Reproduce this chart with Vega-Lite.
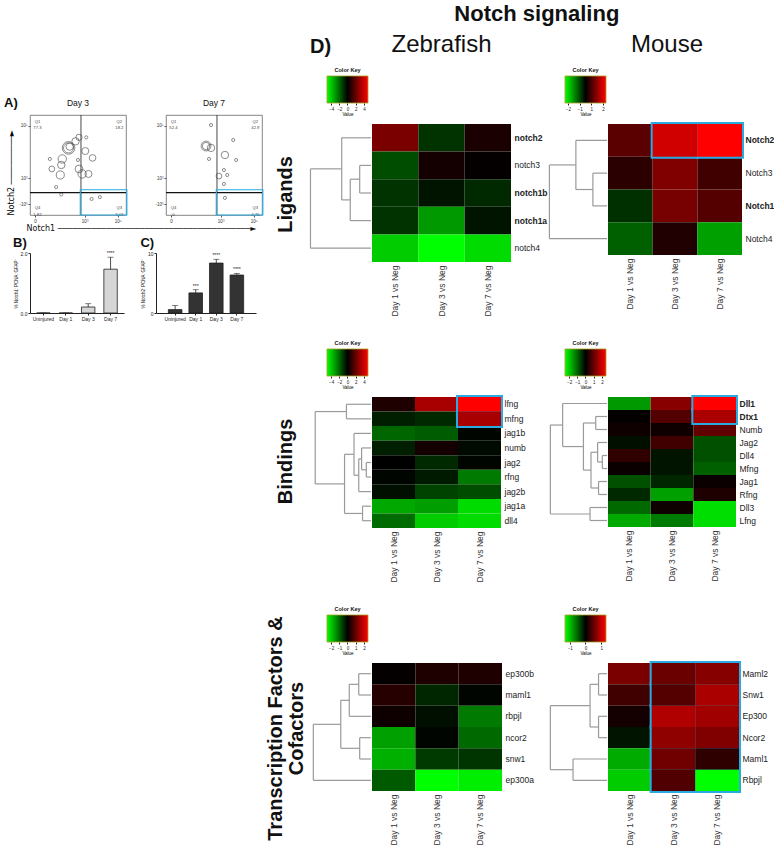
{
"$schema": "https://vega.github.io/schema/vega-lite/v6.json",
"padding": {"left": 4, "top": 2, "right": 0, "bottom": 0},
"background": "white",
"config": {
  "view": {"stroke": null},
  "font": "Liberation Sans",
  "axis": {"grid": false, "labelFont": "Liberation Sans", "titleFont": "Liberation Sans"},
  "title": {"font": "Liberation Sans", "color": "#111"},
  "text": {"font": "Liberation Sans"}
},
"datasets": {
  "zl": [
    {"gene":"notch2","comp":"Day 1 vs Neg","v":2.4},{"gene":"notch2","comp":"Day 3 vs Neg","v":-1.0},{"gene":"notch2","comp":"Day 7 vs Neg","v":0.5},
    {"gene":"notch3","comp":"Day 1 vs Neg","v":-1.5},{"gene":"notch3","comp":"Day 3 vs Neg","v":0.4},{"gene":"notch3","comp":"Day 7 vs Neg","v":0.1},
    {"gene":"notch1b","comp":"Day 1 vs Neg","v":-1.0},{"gene":"notch1b","comp":"Day 3 vs Neg","v":-0.4},{"gene":"notch1b","comp":"Day 7 vs Neg","v":-0.8},
    {"gene":"notch1a","comp":"Day 1 vs Neg","v":-1.0},{"gene":"notch1a","comp":"Day 3 vs Neg","v":-3.0},{"gene":"notch1a","comp":"Day 7 vs Neg","v":-0.4},
    {"gene":"notch4","comp":"Day 1 vs Neg","v":-4.0},{"gene":"notch4","comp":"Day 3 vs Neg","v":-5.0},{"gene":"notch4","comp":"Day 7 vs Neg","v":-4.3}
  ],
  "ml": [
    {"gene":"Notch2","comp":"Day 1 vs Neg","v":0.62},{"gene":"Notch2","comp":"Day 3 vs Neg","v":1.43},{"gene":"Notch2","comp":"Day 7 vs Neg","v":1.75},
    {"gene":"Notch3","comp":"Day 1 vs Neg","v":0.29},{"gene":"Notch3","comp":"Day 3 vs Neg","v":0.88},{"gene":"Notch3","comp":"Day 7 vs Neg","v":0.44},
    {"gene":"Notch1","comp":"Day 1 vs Neg","v":-0.33},{"gene":"Notch1","comp":"Day 3 vs Neg","v":0.82},{"gene":"Notch1","comp":"Day 7 vs Neg","v":0.58},
    {"gene":"Notch4","comp":"Day 1 vs Neg","v":-0.66},{"gene":"Notch4","comp":"Day 3 vs Neg","v":0.22},{"gene":"Notch4","comp":"Day 7 vs Neg","v":-1.1}
  ],
  "zb": [
    {"gene":"lfng","comp":"Day 1 vs Neg","v":0.6},{"gene":"lfng","comp":"Day 3 vs Neg","v":3.3},{"gene":"lfng","comp":"Day 7 vs Neg","v":5.0},
    {"gene":"mfng","comp":"Day 1 vs Neg","v":-0.6},{"gene":"mfng","comp":"Day 3 vs Neg","v":-0.8},{"gene":"mfng","comp":"Day 7 vs Neg","v":3.3},
    {"gene":"jag1b","comp":"Day 1 vs Neg","v":-2.0},{"gene":"jag1b","comp":"Day 3 vs Neg","v":-1.8},{"gene":"jag1b","comp":"Day 7 vs Neg","v":-0.1},
    {"gene":"numb","comp":"Day 1 vs Neg","v":-0.6},{"gene":"numb","comp":"Day 3 vs Neg","v":0.4},{"gene":"numb","comp":"Day 7 vs Neg","v":-0.2},
    {"gene":"jag2","comp":"Day 1 vs Neg","v":0.0},{"gene":"jag2","comp":"Day 3 vs Neg","v":-0.8},{"gene":"jag2","comp":"Day 7 vs Neg","v":-0.1},
    {"gene":"rfng","comp":"Day 1 vs Neg","v":-0.1},{"gene":"rfng","comp":"Day 3 vs Neg","v":-0.5},{"gene":"rfng","comp":"Day 7 vs Neg","v":-2.4},
    {"gene":"jag2b","comp":"Day 1 vs Neg","v":-0.3},{"gene":"jag2b","comp":"Day 3 vs Neg","v":-1.3},{"gene":"jag2b","comp":"Day 7 vs Neg","v":-1.5},
    {"gene":"jag1a","comp":"Day 1 vs Neg","v":-3.3},{"gene":"jag1a","comp":"Day 3 vs Neg","v":-3.1},{"gene":"jag1a","comp":"Day 7 vs Neg","v":-4.3},
    {"gene":"dll4","comp":"Day 1 vs Neg","v":-2.1},{"gene":"dll4","comp":"Day 3 vs Neg","v":-4.0},{"gene":"dll4","comp":"Day 7 vs Neg","v":-4.3}
  ],
  "mb": [
    {"gene":"Dll1","comp":"Day 1 vs Neg","v":-1.5},{"gene":"Dll1","comp":"Day 3 vs Neg","v":1.33},{"gene":"Dll1","comp":"Day 7 vs Neg","v":2.5},
    {"gene":"Dtx1","comp":"Day 1 vs Neg","v":0.05},{"gene":"Dtx1","comp":"Day 3 vs Neg","v":0.8},{"gene":"Dtx1","comp":"Day 7 vs Neg","v":1.67},
    {"gene":"Numb","comp":"Day 1 vs Neg","v":0.15},{"gene":"Numb","comp":"Day 3 vs Neg","v":0.15},{"gene":"Numb","comp":"Day 7 vs Neg","v":0.94},
    {"gene":"Jag2","comp":"Day 1 vs Neg","v":-0.15},{"gene":"Jag2","comp":"Day 3 vs Neg","v":0.63},{"gene":"Jag2","comp":"Day 7 vs Neg","v":-0.78},
    {"gene":"Dll4","comp":"Day 1 vs Neg","v":0.47},{"gene":"Dll4","comp":"Day 3 vs Neg","v":-0.2},{"gene":"Dll4","comp":"Day 7 vs Neg","v":-0.78},
    {"gene":"Mfng","comp":"Day 1 vs Neg","v":0.1},{"gene":"Mfng","comp":"Day 3 vs Neg","v":-0.2},{"gene":"Mfng","comp":"Day 7 vs Neg","v":-0.94},
    {"gene":"Jag1","comp":"Day 1 vs Neg","v":-0.78},{"gene":"Jag1","comp":"Day 3 vs Neg","v":-0.37},{"gene":"Jag1","comp":"Day 7 vs Neg","v":0.1},
    {"gene":"Rfng","comp":"Day 1 vs Neg","v":-0.4},{"gene":"Rfng","comp":"Day 3 vs Neg","v":-1.57},{"gene":"Rfng","comp":"Day 7 vs Neg","v":0.3},
    {"gene":"Dll3","comp":"Day 1 vs Neg","v":-1.04},{"gene":"Dll3","comp":"Day 3 vs Neg","v":0.15},{"gene":"Dll3","comp":"Day 7 vs Neg","v":-2.17},
    {"gene":"Lfng","comp":"Day 1 vs Neg","v":-1.67},{"gene":"Lfng","comp":"Day 3 vs Neg","v":-1.2},{"gene":"Lfng","comp":"Day 7 vs Neg","v":-2.17}
  ],
  "zt": [
    {"gene":"ep300b","comp":"Day 1 vs Neg","v":0.05},{"gene":"ep300b","comp":"Day 3 vs Neg","v":0.3},{"gene":"ep300b","comp":"Day 7 vs Neg","v":0.3},
    {"gene":"maml1","comp":"Day 1 vs Neg","v":0.37},{"gene":"maml1","comp":"Day 3 vs Neg","v":-0.37},{"gene":"maml1","comp":"Day 7 vs Neg","v":-0.05},
    {"gene":"rbpjl","comp":"Day 1 vs Neg","v":0.15},{"gene":"rbpjl","comp":"Day 3 vs Neg","v":-0.15},{"gene":"rbpjl","comp":"Day 7 vs Neg","v":-1.2},
    {"gene":"ncor2","comp":"Day 1 vs Neg","v":-1.57},{"gene":"ncor2","comp":"Day 3 vs Neg","v":-0.05},{"gene":"ncor2","comp":"Day 7 vs Neg","v":-1.04},
    {"gene":"snw1","comp":"Day 1 vs Neg","v":-1.73},{"gene":"snw1","comp":"Day 3 vs Neg","v":-0.57},{"gene":"snw1","comp":"Day 7 vs Neg","v":-0.52},
    {"gene":"ep300a","comp":"Day 1 vs Neg","v":-0.88},{"gene":"ep300a","comp":"Day 3 vs Neg","v":-2.5},{"gene":"ep300a","comp":"Day 7 vs Neg","v":-2.33}
  ],
  "mt": [
    {"gene":"Maml2","comp":"Day 1 vs Neg","v":0.62},{"gene":"Maml2","comp":"Day 3 vs Neg","v":0.54},{"gene":"Maml2","comp":"Day 7 vs Neg","v":0.69},
    {"gene":"Snw1","comp":"Day 1 vs Neg","v":0.33},{"gene":"Snw1","comp":"Day 3 vs Neg","v":0.43},{"gene":"Snw1","comp":"Day 7 vs Neg","v":0.87},
    {"gene":"Ep300","comp":"Day 1 vs Neg","v":0.1},{"gene":"Ep300","comp":"Day 3 vs Neg","v":0.9},{"gene":"Ep300","comp":"Day 7 vs Neg","v":0.82},
    {"gene":"Ncor2","comp":"Day 1 vs Neg","v":-0.1},{"gene":"Ncor2","comp":"Day 3 vs Neg","v":0.73},{"gene":"Ncor2","comp":"Day 7 vs Neg","v":0.65},
    {"gene":"Maml1","comp":"Day 1 vs Neg","v":-0.87},{"gene":"Maml1","comp":"Day 3 vs Neg","v":0.57},{"gene":"Maml1","comp":"Day 7 vs Neg","v":0.24},
    {"gene":"Rbpjl","comp":"Day 1 vs Neg","v":-1.04},{"gene":"Rbpjl","comp":"Day 3 vs Neg","v":0.41},{"gene":"Rbpjl","comp":"Day 7 vs Neg","v":-1.3}
  ],
  "dzl": [
    {"h":12,"ha":0,"ya":1.5,"hb":0,"yb":2.5},
    {"h":22,"ha":0,"ya":3.5,"hb":12,"yb":2.0},
    {"h":31,"ha":0,"ya":0.5,"hb":22,"yb":2.75},
    {"h":64,"ha":31,"ya":1.625,"hb":0,"yb":4.5}
  ],
  "dml": [
    {"h":15,"ha":0,"ya":1.5,"hb":0,"yb":2.5},
    {"h":33,"ha":0,"ya":0.5,"hb":15,"yb":2.0},
    {"h":61,"ha":33,"ya":1.25,"hb":0,"yb":3.5}
  ],
  "dzb": [
    {"h":5,"ha":0,"ya":4.5,"hb":0,"yb":5.5},
    {"h":10,"ha":0,"ya":3.5,"hb":5,"yb":5.0},
    {"h":13,"ha":10,"ya":4.25,"hb":0,"yb":6.5},
    {"h":18,"ha":0,"ya":2.5,"hb":13,"yb":5.375},
    {"h":9,"ha":0,"ya":7.5,"hb":0,"yb":8.5},
    {"h":28,"ha":18,"ya":3.9375,"hb":9,"yb":8.0},
    {"h":26,"ha":0,"ya":0.5,"hb":0,"yb":1.5},
    {"h":59,"ha":26,"ya":1.0,"hb":28,"yb":5.97}
  ],
  "dmb": [
    {"h":5,"ha":0,"ya":4.5,"hb":0,"yb":5.5},
    {"h":10,"ha":0,"ya":3.5,"hb":5,"yb":5.0},
    {"h":9,"ha":0,"ya":6.5,"hb":0,"yb":7.5},
    {"h":17,"ha":10,"ya":4.25,"hb":9,"yb":7.0},
    {"h":12,"ha":0,"ya":1.5,"hb":0,"yb":2.5},
    {"h":25,"ha":12,"ya":2.0,"hb":17,"yb":5.625},
    {"h":47,"ha":0,"ya":0.5,"hb":25,"yb":3.8125},
    {"h":18,"ha":0,"ya":8.5,"hb":0,"yb":9.5},
    {"h":60,"ha":47,"ya":2.156,"hb":18,"yb":9.0}
  ],
  "dzt": [
    {"h":13,"ha":0,"ya":0.5,"hb":0,"yb":1.5},
    {"h":23,"ha":13,"ya":1.0,"hb":0,"yb":2.5},
    {"h":12,"ha":0,"ya":3.5,"hb":0,"yb":4.5},
    {"h":32,"ha":23,"ya":1.75,"hb":12,"yb":4.0},
    {"h":61,"ha":32,"ya":2.875,"hb":0,"yb":5.5}
  ],
  "dmt": [
    {"h":9,"ha":0,"ya":0.5,"hb":0,"yb":1.5},
    {"h":9,"ha":0,"ya":2.5,"hb":0,"yb":3.5},
    {"h":18,"ha":9,"ya":1.0,"hb":9,"yb":3.0},
    {"h":36,"ha":0,"ya":4.5,"hb":0,"yb":5.5},
    {"h":60,"ha":18,"ya":2.0,"hb":36,"yb":5.0}
  ],
  "d3pts": [
    {"x":2.03,"y":4.15,"ext":3.0},{"x":2.03,"y":4.15,"ext":1.9},{"x":2.1,"y":4.2,"ext":1.0},
    {"x":2.45,"y":4.4,"ext":1.0},{"x":2.66,"y":4.55,"ext":0.7},{"x":1.65,"y":3.73,"ext":1.3},
    {"x":1.59,"y":3.5,"ext":1.0},{"x":1.53,"y":3.12,"ext":1.2},{"x":1.02,"y":3.35,"ext":0.6},
    {"x":3.04,"y":4.03,"ext":0.9},{"x":3.48,"y":3.77,"ext":0.8},{"x":2.66,"y":3.35,"ext":1.1},
    {"x":2.85,"y":3.16,"ext":1.3},{"x":3.23,"y":3.16,"ext":0.9},{"x":0.9,"y":3.73,"ext":0.15},
    {"x":2.6,"y":3.69,"ext":0.15},{"x":1.28,"y":2.66,"ext":0.15},{"x":1.59,"y":2.38,"ext":0.15},
    {"x":3.42,"y":2.21,"ext":0.15},{"x":3.92,"y":2.28,"ext":0.15},{"x":3.1,"y":4.55,"ext":0.15}
  ],
  "d7pts": [
    {"x":2.12,"y":4.22,"ext":1.8},{"x":2.12,"y":4.22,"ext":1.0},{"x":2.42,"y":4.15,"ext":1.0},
    {"x":3.26,"y":3.88,"ext":1.0},{"x":2.42,"y":5.02,"ext":0.15},{"x":2.3,"y":3.73,"ext":0.15},
    {"x":3.76,"y":4.45,"ext":0.15},{"x":3.94,"y":3.69,"ext":0.15},{"x":2.9,"y":3.08,"ext":0.6},
    {"x":3.2,"y":3.31,"ext":0.15},{"x":3.4,"y":3.12,"ext":0.15},{"x":3.2,"y":2.78,"ext":0.15},
    {"x":3.26,"y":2.25,"ext":0.15}
  ],
  "d3q": [
    {"q":"Q1\n77.3","qx":0.15,"qy":5.15},{"q":"Q2\n18.2","qx":5.1,"qy":5.15},
    {"q":"Q4\n1.82","qx":0.15,"qy":1.85},{"q":"Q3\n3.03","qx":5.1,"qy":1.85}
  ],
  "d7q": [
    {"q":"Q1\n52.4","qx":0.15,"qy":5.15},{"q":"Q2\n42.9","qx":5.1,"qy":5.15},
    {"q":"Q4\n0","qx":0.15,"qy":1.85},{"q":"Q3\n4.76","qx":5.1,"qy":1.85}
  ],
  "barsB": [
    {"group":"Uninjured","mean":0,"upper":0,"stars":""},
    {"group":"Day 1","mean":0,"upper":0,"stars":""},
    {"group":"Day 3","mean":0.2,"upper":0.31,"stars":""},
    {"group":"Day 7","mean":1.46,"upper":1.86,"stars":"****"}
  ],
  "barsC": [
    {"group":"Uninjured","mean":0.57,"upper":1.25,"stars":""},
    {"group":"Day 1","mean":3.35,"upper":3.88,"stars":"***"},
    {"group":"Day 3","mean":8.32,"upper":8.95,"stars":"****"},
    {"group":"Day 7","mean":6.33,"upper":6.6,"stars":"****"}
  ]
},
"spacing": 2,
"hconcat": [
  {
    "spacing": 4,
    "vconcat": [
      {
        "spacing": -12,
        "vconcat": [
          {"width": 20, "height": 36, "data": {"values": [{"t": ""}]}, "mark": {"type": "text", "fontSize": 1}, "encoding": {"text": {"field": "t"}},
           "title": {"text": "A)", "orient": "bottom", "anchor": "start", "fontSize": 13, "fontWeight": "bold", "offset": 0, "dx": -26}},
          {
            "spacing": 26,
            "title": {"text": "Notch1  ────────────────────────────────────────►", "orient": "bottom", "anchor": "start", "font": "DejaVu Sans", "fontSize": 8, "fontWeight": "normal", "offset": 2, "dx": 19},
            "hconcat": [
              {
                "width": 96, "height": 100,
                "view": {"stroke": "#666", "strokeWidth": 0.8},
                "title": {"text": "Day 3", "fontSize": 8.5, "fontWeight": "normal", "offset": 7},
                "layer": [
                  {"data": {"name": "d3pts"}, "mark": {"type": "point", "shape": "circle", "filled": false, "color": "#333", "strokeWidth": 0.8},
                   "encoding": {
                     "x": {"field": "x", "type": "quantitative", "scale": {"domain": [-0.3, 5.5], "nice": false, "zero": false},
                           "axis": {"title": null, "values": [0, 2, 3, 4, 5], "labelExpr": "datum.value == 0 ? '0' : datum.value == 2 ? '10²' : datum.value == 3 ? '10³' : datum.value == 4 ? '10⁴' : '10⁵'", "labelFontSize": 4.5, "tickSize": 2, "domain": false, "labelPadding": 1, "labelColor": "#333", "tickColor": "#555"}},
                     "y": {"field": "y", "type": "quantitative", "scale": {"domain": [1.6, 5.4], "nice": false, "zero": false},
                           "axis": {"title": "Notch2  ──────────►", "titleFont": "DejaVu Sans", "titleFontSize": 8, "titleFontWeight": "normal", "titleAnchor": "start", "titlePadding": 3, "values": [2.0, 2.45, 3, 4, 5], "labelExpr": "datum.value == 2 ? '-10³' : datum.value == 2.45 ? '0' : datum.value == 3 ? '10³' : datum.value == 4 ? '10⁴' : '10⁵'", "labelFontSize": 4.5, "tickSize": 2, "domain": false, "labelPadding": 1, "labelColor": "#333", "tickColor": "#555"}},
                     "size": {"field": "ext", "type": "quantitative", "scale": {"domain": [0, 3], "range": [2, 160]}, "legend": null}
                   }},
                  {"data": {"values": [{"gate": 2.78}]}, "mark": {"type": "rule", "color": "#333", "strokeWidth": 0.9}, "encoding": {"x": {"field": "gate", "type": "quantitative"}}},
                  {"data": {"values": [{"gate": 2.45}]}, "mark": {"type": "rule", "color": "#111", "strokeWidth": 1.4}, "encoding": {"y": {"field": "gate", "type": "quantitative"}}},
                  {"data": {"name": "d3q"}, "mark": {"type": "text", "fontSize": 4.2, "lineBreak": "\n", "color": "#444"},
                   "encoding": {"x": {"field": "qx", "type": "quantitative"}, "y": {"field": "qy", "type": "quantitative"}, "text": {"field": "q"}}},
                  {"data": {"values": [{"x1": 2.74, "x2": 5.55, "y1": 1.6, "y2": 2.56}]}, "mark": {"type": "rect", "filled": false, "stroke": "#29abe2", "strokeWidth": 1.2, "clip": false},
                   "encoding": {"x": {"field": "x1", "type": "quantitative"}, "x2": {"field": "x2"}, "y": {"field": "y1", "type": "quantitative"}, "y2": {"field": "y2"}}}
                ]
              },
              {
                "width": 96, "height": 100,
                "view": {"stroke": "#666", "strokeWidth": 0.8},
                "title": {"text": "Day 7", "fontSize": 8.5, "fontWeight": "normal", "offset": 7},
                "layer": [
                  {"data": {"name": "d7pts"}, "mark": {"type": "point", "shape": "circle", "filled": false, "color": "#333", "strokeWidth": 0.8},
                   "encoding": {
                     "x": {"field": "x", "type": "quantitative", "scale": {"domain": [-0.3, 5.5], "nice": false, "zero": false},
                           "axis": {"title": null, "values": [0, 2, 3, 4, 5], "labelExpr": "datum.value == 0 ? '0' : datum.value == 2 ? '10²' : datum.value == 3 ? '10³' : datum.value == 4 ? '10⁴' : '10⁵'", "labelFontSize": 4.5, "tickSize": 2, "domain": false, "labelPadding": 1, "labelColor": "#333", "tickColor": "#555"}},
                     "y": {"field": "y", "type": "quantitative", "scale": {"domain": [1.6, 5.4], "nice": false, "zero": false},
                           "axis": {"title": null, "values": [2.0, 2.45, 3, 4, 5], "labelExpr": "datum.value == 2 ? '-10³' : datum.value == 2.45 ? '0' : datum.value == 3 ? '10³' : datum.value == 4 ? '10⁴' : '10⁵'", "labelFontSize": 4.5, "tickSize": 2, "domain": false, "labelPadding": 1, "labelColor": "#333", "tickColor": "#555"}},
                     "size": {"field": "ext", "type": "quantitative", "scale": {"domain": [0, 3], "range": [2, 160]}, "legend": null}
                   }},
                  {"data": {"values": [{"gate": 2.78}]}, "mark": {"type": "rule", "color": "#333", "strokeWidth": 0.9}, "encoding": {"x": {"field": "gate", "type": "quantitative"}}},
                  {"data": {"values": [{"gate": 2.45}]}, "mark": {"type": "rule", "color": "#111", "strokeWidth": 1.4}, "encoding": {"y": {"field": "gate", "type": "quantitative"}}},
                  {"data": {"name": "d7q"}, "mark": {"type": "text", "fontSize": 4.2, "lineBreak": "\n", "color": "#444"},
                   "encoding": {"x": {"field": "qx", "type": "quantitative"}, "y": {"field": "qy", "type": "quantitative"}, "text": {"field": "q"}}},
                  {"data": {"values": [{"x1": 2.74, "x2": 5.55, "y1": 1.6, "y2": 2.56}]}, "mark": {"type": "rect", "filled": false, "stroke": "#29abe2", "strokeWidth": 1.2, "clip": false},
                   "encoding": {"x": {"field": "x1", "type": "quantitative"}, "x2": {"field": "x2"}, "y": {"field": "y1", "type": "quantitative"}, "y2": {"field": "y2"}}}
                ]
              }
            ]
          }
        ]
      },
      {
        "spacing": 16,
        "hconcat": [
          {
            "title": {"text": "B)", "anchor": "start", "fontSize": 13, "fontWeight": "bold", "offset": 1},
            "vconcat": [
              {
                "width": 94, "height": 60,
                "data": {"name": "barsB"},
                "encoding": {"x": {"field": "group", "type": "nominal", "sort": ["Uninjured", "Day 1", "Day 3", "Day 7"], "scale": {"paddingInner": 0.4, "paddingOuter": 0.3},
                             "axis": {"title": null, "labelAngle": 0, "labelFontSize": 5, "tickSize": 2, "domainColor": "#222", "tickColor": "#222", "labelColor": "#222", "labelPadding": 1}}},
                "layer": [
                  {"mark": {"type": "bar", "color": "#d6d6d6", "stroke": "#222", "strokeWidth": 0.8},
                   "encoding": {"y": {"field": "mean", "type": "quantitative", "scale": {"domain": [0, 2]},
                     "axis": {"title": "% Notch1⁺PCNA⁺GFAP⁺", "values": [0, 0.5, 1, 1.5, 2], "format": ".1f", "labelFontSize": 5, "titleFontSize": 4.5, "titleFontWeight": "normal", "tickSize": 2, "domainColor": "#222", "tickColor": "#222", "labelColor": "#222", "titleColor": "#222", "titlePadding": 2, "labelPadding": 1}}}},
                  {"mark": {"type": "rule", "color": "#222", "strokeWidth": 0.8}, "encoding": {"y": {"field": "mean", "type": "quantitative"}, "y2": {"field": "upper"}}},
                  {"mark": {"type": "tick", "color": "#222", "thickness": 0.8, "size": 6}, "encoding": {"y": {"field": "upper", "type": "quantitative"}}},
                  {"mark": {"type": "text", "fontSize": 5, "dy": -4, "color": "#222"}, "encoding": {"y": {"field": "upper", "type": "quantitative"}, "text": {"field": "stars"}}}
                ]
              }
            ]
          },
          {
            "title": {"text": "C)", "anchor": "start", "fontSize": 13, "fontWeight": "bold", "offset": 1},
            "vconcat": [
              {
                "width": 100, "height": 60,
                "data": {"name": "barsC"},
                "encoding": {"x": {"field": "group", "type": "nominal", "sort": ["Uninjured", "Day 1", "Day 3", "Day 7"], "scale": {"paddingInner": 0.34, "paddingOuter": 0.6},
                             "axis": {"title": null, "labelAngle": 0, "labelFontSize": 5, "tickSize": 2, "domainColor": "#222", "tickColor": "#222", "labelColor": "#222", "labelPadding": 1}}},
                "layer": [
                  {"mark": {"type": "bar", "color": "#333333", "stroke": "#222", "strokeWidth": 0.8},
                   "encoding": {"y": {"field": "mean", "type": "quantitative", "scale": {"domain": [0, 10]},
                     "axis": {"title": "% Notch2⁺PCNA⁺GFAP⁺", "values": [0, 2, 4, 6, 8, 10], "labelFontSize": 5, "titleFontSize": 4.5, "titleFontWeight": "normal", "tickSize": 2, "domainColor": "#222", "tickColor": "#222", "labelColor": "#222", "titleColor": "#222", "titlePadding": 2, "labelPadding": 1}}}},
                  {"mark": {"type": "rule", "color": "#222", "strokeWidth": 0.8}, "encoding": {"y": {"field": "mean", "type": "quantitative"}, "y2": {"field": "upper"}}},
                  {"mark": {"type": "tick", "color": "#222", "thickness": 0.8, "size": 6}, "encoding": {"y": {"field": "upper", "type": "quantitative"}}},
                  {"mark": {"type": "text", "fontSize": 5, "dy": -4, "color": "#222"}, "encoding": {"y": {"field": "upper", "type": "quantitative"}, "text": {"field": "stars"}}}
                ]
              }
            ]
          }
        ]
      }
    ]
  },
  {
    "width": 40, "height": 801,
    "data": {"values": [{"label": "Ligands"}, {"label": "Bindings"}, {"label": "Transcription Factors &\nCofactors"}]},
    "encoding": {
      "y": {"field": "label", "type": "nominal", "sort": null, "scale": {"type": "band", "domain": ["Ligands", "Bindings", "Transcription Factors &\nCofactors"], "paddingInner": 0, "paddingOuter": 0}, "axis": null},
      "text": {"field": "label"}
    },
    "layer": [
      {"transform": [{"filter": "datum.label == 'Ligands' || datum.label == 'Bindings'"}],
       "mark": {"type": "text", "angle": 270, "fontSize": 20, "fontWeight": "bold", "lineBreak": "\n", "lineHeight": 21, "align": "center", "baseline": "middle", "color": "#111"}},
      {"transform": [{"filter": "datum.label != 'Ligands' && datum.label != 'Bindings'"}],
       "mark": {"type": "text", "angle": 270, "fontSize": 20, "fontWeight": "bold", "lineBreak": "\n", "lineHeight": 21, "align": "center", "baseline": "middle", "color": "#111", "dy": -10}}
    ]
  },
  {
    "title": {"text": "Notch signaling", "fontSize": 22, "fontWeight": "bold", "anchor": "middle", "offset": 7, "dx": -5},
    "columns": 4,
    "align": "each",
    "spacing": {"row": 6, "column": 0},
    "resolve": {"scale": {"color": "independent"}},
    "concat": [
      {"width": 20, "height": 1, "data": {"values": [{"t": ""}]}, "mark": {"type": "text", "fontSize": 1}, "encoding": {"text": {"field": "t"}},
       "title": {"text": "D)", "anchor": "start", "fontSize": 20, "fontWeight": "bold", "offset": 4}},
      {"width": 139, "height": 1, "data": {"values": [{"t": ""}]}, "mark": {"type": "text", "fontSize": 1}, "encoding": {"text": {"field": "t"}},
       "title": {"text": "Zebrafish", "anchor": "middle", "fontSize": 24, "fontWeight": "normal", "offset": 4}},
      {"width": 1, "height": 1, "data": {"values": [{"t": ""}]}, "mark": {"type": "text", "fontSize": 1}, "encoding": {"text": {"field": "t"}}},
      {"width": 118, "height": 1, "data": {"values": [{"t": ""}]}, "mark": {"type": "text", "fontSize": 1}, "encoding": {"text": {"field": "t"}},
       "title": {"text": "Mouse", "anchor": "middle", "fontSize": 24, "fontWeight": "normal", "offset": 4}},

      {"width": 58, "height": 27,
       "title": {"text": "Color Key", "fontSize": 5.5, "fontWeight": "bold", "offset": 2, "dx": 8.5},
       "data": {"values": [{"lo": -5, "hi": 5}]},
       "mark": {"type": "rect", "fill": {"gradient": "linear", "stops": [{"offset": 0, "color": "#00ff00"}, {"offset": 0.5, "color": "#000000"}, {"offset": 1, "color": "#ff0000"}]}, "stroke": "#a8a020", "strokeWidth": 0.8},
       "encoding": {"x": {"field": "lo", "type": "quantitative", "scale": {"domain": [-9.146, 5], "nice": false, "zero": false},
          "axis": {"values": [-4, -2, 0, 2, 4], "domain": false, "tickSize": 2, "labelFontSize": 4.5, "labelPadding": 1, "title": "Value", "titleFontSize": 4.5, "titlePadding": 1, "titleX": 37.5, "titleFontWeight": "normal", "labelColor": "#222", "tickColor": "#222"}},
         "x2": {"field": "hi"}}},
      {"width": 1, "height": 1, "data": {"values": [{"t": ""}]}, "mark": {"type": "text", "fontSize": 1}, "encoding": {"text": {"field": "t"}}},
      {"width": 58, "height": 27,
       "title": {"text": "Color Key", "fontSize": 5.5, "fontWeight": "bold", "offset": 2, "dx": 8.5},
       "data": {"values": [{"lo": -1.75, "hi": 1.75}]},
       "mark": {"type": "rect", "fill": {"gradient": "linear", "stops": [{"offset": 0, "color": "#00ff00"}, {"offset": 0.5, "color": "#000000"}, {"offset": 1, "color": "#ff0000"}]}, "stroke": "#a8a020", "strokeWidth": 0.8},
       "encoding": {"x": {"field": "lo", "type": "quantitative", "scale": {"domain": [-3.201, 1.75], "nice": false, "zero": false},
          "axis": {"values": [-1.5, -0.5, 0.5, 1.5], "domain": false, "tickSize": 2, "labelFontSize": 4.5, "labelPadding": 1, "title": "Value", "titleFontSize": 4.5, "titlePadding": 1, "titleX": 37.5, "titleFontWeight": "normal", "labelColor": "#222", "tickColor": "#222"}},
         "x2": {"field": "hi"}}},
      {"width": 1, "height": 1, "data": {"values": [{"t": ""}]}, "mark": {"type": "text", "fontSize": 1}, "encoding": {"text": {"field": "t"}}},

      {"width": 62, "height": 138,
       "data": {"name": "dzl"},
       "layer": [
         {"mark": {"type": "rule", "color": "#9a9a9a", "strokeWidth": 1.2}, "encoding": {"x": {"field": "ha", "type": "quantitative", "scale": {"domain": [-1, 64.5], "reverse": true, "nice": false, "zero": false}, "axis": null}, "x2": {"field": "h"}, "y": {"field": "ya", "type": "quantitative", "scale": {"domain": [0, 5], "reverse": true, "nice": false, "zero": false}, "axis": null}}},
         {"mark": {"type": "rule", "color": "#9a9a9a", "strokeWidth": 1.2}, "encoding": {"x": {"field": "hb", "type": "quantitative", "axis": null}, "x2": {"field": "h"}, "y": {"field": "yb", "type": "quantitative", "axis": null}}},
         {"mark": {"type": "rule", "color": "#9a9a9a", "strokeWidth": 1.2}, "encoding": {"x": {"field": "h", "type": "quantitative", "axis": null}, "y": {"field": "ya", "type": "quantitative", "axis": null}, "y2": {"field": "yb"}}}
       ]},
      {"width": 139, "height": 138,
       "data": {"name": "zl"},
       "encoding": {
         "x": {"field": "comp", "type": "nominal", "sort": ["Day 1 vs Neg", "Day 3 vs Neg", "Day 7 vs Neg"], "scale": {"paddingInner": 0, "paddingOuter": 0},
               "axis": {"title": null, "labelAngle": -90, "domain": false, "ticks": false, "labelFontSize": 8.5, "labelPadding": 3, "labelColor": "#333", "minExtent": 73}},
         "y": {"field": "gene", "type": "nominal", "sort": ["notch2", "notch3", "notch1b", "notch1a", "notch4"], "scale": {"paddingInner": 0, "paddingOuter": 0},
               "axis": {"title": null, "orient": "right", "domain": false, "ticks": false, "labelFontSize": 8.5, "labelPadding": 3, "labelColor": "#222", "labelOverlap": false,
                        "labelFontWeight": {"condition": {"test": "indexof(['notch2','notch1b','notch1a'], datum.value) >= 0", "value": "bold"}, "value": "normal"}}}
       },
       "layer": [
         {"mark": {"type": "rect"}, "encoding": {"color": {"field": "v", "type": "quantitative", "scale": {"domain": [-5, 0, 5], "range": ["#00ff00", "#000000", "#ff0000"], "interpolate": "rgb"}, "legend": null}}}
       ]},
      {"width": 60, "height": 131,
       "data": {"name": "dml"},
       "layer": [
         {"mark": {"type": "rule", "color": "#9a9a9a", "strokeWidth": 1.2}, "encoding": {"x": {"field": "ha", "type": "quantitative", "scale": {"domain": [-1, 62.5], "reverse": true, "nice": false, "zero": false}, "axis": null}, "x2": {"field": "h"}, "y": {"field": "ya", "type": "quantitative", "scale": {"domain": [0, 4], "reverse": true, "nice": false, "zero": false}, "axis": null}}},
         {"mark": {"type": "rule", "color": "#9a9a9a", "strokeWidth": 1.2}, "encoding": {"x": {"field": "hb", "type": "quantitative", "axis": null}, "x2": {"field": "h"}, "y": {"field": "yb", "type": "quantitative", "axis": null}}},
         {"mark": {"type": "rule", "color": "#9a9a9a", "strokeWidth": 1.2}, "encoding": {"x": {"field": "h", "type": "quantitative", "axis": null}, "y": {"field": "ya", "type": "quantitative", "axis": null}, "y2": {"field": "yb"}}}
       ]},
      {"width": 134, "height": 131,
       "data": {"name": "ml"},
       "encoding": {
         "x": {"field": "comp", "type": "nominal", "sort": ["Day 1 vs Neg", "Day 3 vs Neg", "Day 7 vs Neg"], "scale": {"paddingInner": 0, "paddingOuter": 0},
               "axis": {"title": null, "labelAngle": -90, "domain": false, "ticks": false, "labelFontSize": 8.5, "labelPadding": 3, "labelColor": "#333", "minExtent": 73}},
         "y": {"field": "gene", "type": "nominal", "sort": ["Notch2", "Notch3", "Notch1", "Notch4"], "scale": {"paddingInner": 0, "paddingOuter": 0},
               "axis": {"title": null, "orient": "right", "domain": false, "ticks": false, "labelFontSize": 8.5, "labelPadding": 3, "labelColor": "#222", "labelOverlap": false,
                        "labelFontWeight": {"condition": {"test": "indexof(['Notch2','Notch1'], datum.value) >= 0", "value": "bold"}, "value": "normal"}}}
       },
       "layer": [
         {"mark": {"type": "rect"}, "encoding": {"color": {"field": "v", "type": "quantitative", "scale": {"domain": [-1.75, 0, 1.75], "range": ["#00ff00", "#000000", "#ff0000"], "interpolate": "rgb"}, "legend": null}}},
         {"transform": [{"filter": "datum.gene == 'Notch2' && datum.comp != 'Day 1 vs Neg'"}], "mark": {"type": "rect", "filled": false, "stroke": "#29abe2", "strokeWidth": 4}},
         {"transform": [{"filter": "datum.gene == 'Notch2' && datum.comp != 'Day 1 vs Neg'"}], "mark": {"type": "rect"}, "encoding": {"color": {"field": "v", "type": "quantitative", "legend": null}}}
       ]},

      {"width": 58, "height": 27,
       "title": {"text": "Color Key", "fontSize": 5.5, "fontWeight": "bold", "offset": 2, "dx": 8.5},
       "data": {"values": [{"lo": -5, "hi": 5}]},
       "mark": {"type": "rect", "fill": {"gradient": "linear", "stops": [{"offset": 0, "color": "#00ff00"}, {"offset": 0.5, "color": "#000000"}, {"offset": 1, "color": "#ff0000"}]}, "stroke": "#a8a020", "strokeWidth": 0.8},
       "encoding": {"x": {"field": "lo", "type": "quantitative", "scale": {"domain": [-9.146, 5], "nice": false, "zero": false},
          "axis": {"values": [-4, -2, 0, 2, 4], "domain": false, "tickSize": 2, "labelFontSize": 4.5, "labelPadding": 1, "title": "Value", "titleFontSize": 4.5, "titlePadding": 1, "titleX": 37.5, "titleFontWeight": "normal", "labelColor": "#222", "tickColor": "#222"}},
         "x2": {"field": "hi"}}},
      {"width": 1, "height": 1, "data": {"values": [{"t": ""}]}, "mark": {"type": "text", "fontSize": 1}, "encoding": {"text": {"field": "t"}}},
      {"width": 58, "height": 27,
       "title": {"text": "Color Key", "fontSize": 5.5, "fontWeight": "bold", "offset": 2, "dx": 8.5},
       "data": {"values": [{"lo": -2.5, "hi": 2.5}]},
       "mark": {"type": "rect", "fill": {"gradient": "linear", "stops": [{"offset": 0, "color": "#00ff00"}, {"offset": 0.5, "color": "#000000"}, {"offset": 1, "color": "#ff0000"}]}, "stroke": "#a8a020", "strokeWidth": 0.8},
       "encoding": {"x": {"field": "lo", "type": "quantitative", "scale": {"domain": [-4.573, 2.5], "nice": false, "zero": false},
          "axis": {"values": [-2, -1, 0, 1, 2], "domain": false, "tickSize": 2, "labelFontSize": 4.5, "labelPadding": 1, "title": "Value", "titleFontSize": 4.5, "titlePadding": 1, "titleX": 37.5, "titleFontWeight": "normal", "labelColor": "#222", "tickColor": "#222"}},
         "x2": {"field": "hi"}}},
      {"width": 1, "height": 1, "data": {"values": [{"t": ""}]}, "mark": {"type": "text", "fontSize": 1}, "encoding": {"text": {"field": "t"}}},

      {"width": 62, "height": 131,
       "data": {"name": "dzb"},
       "layer": [
         {"mark": {"type": "rule", "color": "#9a9a9a", "strokeWidth": 1.2}, "encoding": {"x": {"field": "ha", "type": "quantitative", "scale": {"domain": [-1, 64.5], "reverse": true, "nice": false, "zero": false}, "axis": null}, "x2": {"field": "h"}, "y": {"field": "ya", "type": "quantitative", "scale": {"domain": [0, 9], "reverse": true, "nice": false, "zero": false}, "axis": null}}},
         {"mark": {"type": "rule", "color": "#9a9a9a", "strokeWidth": 1.2}, "encoding": {"x": {"field": "hb", "type": "quantitative", "axis": null}, "x2": {"field": "h"}, "y": {"field": "yb", "type": "quantitative", "axis": null}}},
         {"mark": {"type": "rule", "color": "#9a9a9a", "strokeWidth": 1.2}, "encoding": {"x": {"field": "h", "type": "quantitative", "axis": null}, "y": {"field": "ya", "type": "quantitative", "axis": null}, "y2": {"field": "yb"}}}
       ]},
      {"width": 129, "height": 131,
       "data": {"name": "zb"},
       "encoding": {
         "x": {"field": "comp", "type": "nominal", "sort": ["Day 1 vs Neg", "Day 3 vs Neg", "Day 7 vs Neg"], "scale": {"paddingInner": 0, "paddingOuter": 0},
               "axis": {"title": null, "labelAngle": -90, "domain": false, "ticks": false, "labelFontSize": 8.5, "labelPadding": 3, "labelColor": "#333", "minExtent": 73}},
         "y": {"field": "gene", "type": "nominal", "sort": ["lfng", "mfng", "jag1b", "numb", "jag2", "rfng", "jag2b", "jag1a", "dll4"], "scale": {"paddingInner": 0, "paddingOuter": 0},
               "axis": {"title": null, "orient": "right", "domain": false, "ticks": false, "labelFontSize": 8.5, "labelPadding": 3, "labelColor": "#222", "labelOverlap": false}}
       },
       "layer": [
         {"mark": {"type": "rect"}, "encoding": {"color": {"field": "v", "type": "quantitative", "scale": {"domain": [-5, 0, 5], "range": ["#00ff00", "#000000", "#ff0000"], "interpolate": "rgb"}, "legend": null}}},
         {"transform": [{"filter": "(datum.gene == 'lfng' || datum.gene == 'mfng') && datum.comp == 'Day 7 vs Neg'"}], "mark": {"type": "rect", "filled": false, "stroke": "#29abe2", "strokeWidth": 4}},
         {"transform": [{"filter": "(datum.gene == 'lfng' || datum.gene == 'mfng') && datum.comp == 'Day 7 vs Neg'"}], "mark": {"type": "rect"}, "encoding": {"color": {"field": "v", "type": "quantitative", "legend": null}}}
       ]},
      {"width": 60, "height": 130,
       "data": {"name": "dmb"},
       "layer": [
         {"mark": {"type": "rule", "color": "#9a9a9a", "strokeWidth": 1.2}, "encoding": {"x": {"field": "ha", "type": "quantitative", "scale": {"domain": [-1, 62.5], "reverse": true, "nice": false, "zero": false}, "axis": null}, "x2": {"field": "h"}, "y": {"field": "ya", "type": "quantitative", "scale": {"domain": [0, 10], "reverse": true, "nice": false, "zero": false}, "axis": null}}},
         {"mark": {"type": "rule", "color": "#9a9a9a", "strokeWidth": 1.2}, "encoding": {"x": {"field": "hb", "type": "quantitative", "axis": null}, "x2": {"field": "h"}, "y": {"field": "yb", "type": "quantitative", "axis": null}}},
         {"mark": {"type": "rule", "color": "#9a9a9a", "strokeWidth": 1.2}, "encoding": {"x": {"field": "h", "type": "quantitative", "axis": null}, "y": {"field": "ya", "type": "quantitative", "axis": null}, "y2": {"field": "yb"}}}
       ]},
      {"width": 128, "height": 130,
       "data": {"name": "mb"},
       "encoding": {
         "x": {"field": "comp", "type": "nominal", "sort": ["Day 1 vs Neg", "Day 3 vs Neg", "Day 7 vs Neg"], "scale": {"paddingInner": 0, "paddingOuter": 0},
               "axis": {"title": null, "labelAngle": -90, "domain": false, "ticks": false, "labelFontSize": 8.5, "labelPadding": 3, "labelColor": "#333", "minExtent": 73}},
         "y": {"field": "gene", "type": "nominal", "sort": ["Dll1", "Dtx1", "Numb", "Jag2", "Dll4", "Mfng", "Jag1", "Rfng", "Dll3", "Lfng"], "scale": {"paddingInner": 0, "paddingOuter": 0},
               "axis": {"title": null, "orient": "right", "domain": false, "ticks": false, "labelFontSize": 8.5, "labelPadding": 3, "labelColor": "#222", "labelOverlap": false,
                        "labelFontWeight": {"condition": {"test": "indexof(['Dll1','Dtx1'], datum.value) >= 0", "value": "bold"}, "value": "normal"}}}
       },
       "layer": [
         {"mark": {"type": "rect"}, "encoding": {"color": {"field": "v", "type": "quantitative", "scale": {"domain": [-2.5, 0, 2.5], "range": ["#00ff00", "#000000", "#ff0000"], "interpolate": "rgb"}, "legend": null}}},
         {"transform": [{"filter": "(datum.gene == 'Dll1' || datum.gene == 'Dtx1') && datum.comp == 'Day 7 vs Neg'"}], "mark": {"type": "rect", "filled": false, "stroke": "#29abe2", "strokeWidth": 4}},
         {"transform": [{"filter": "(datum.gene == 'Dll1' || datum.gene == 'Dtx1') && datum.comp == 'Day 7 vs Neg'"}], "mark": {"type": "rect"}, "encoding": {"color": {"field": "v", "type": "quantitative", "legend": null}}}
       ]},

      {"width": 58, "height": 27,
       "title": {"text": "Color Key", "fontSize": 5.5, "fontWeight": "bold", "offset": 2, "dx": 8.5},
       "data": {"values": [{"lo": -2.5, "hi": 2.5}]},
       "mark": {"type": "rect", "fill": {"gradient": "linear", "stops": [{"offset": 0, "color": "#00ff00"}, {"offset": 0.5, "color": "#000000"}, {"offset": 1, "color": "#ff0000"}]}, "stroke": "#a8a020", "strokeWidth": 0.8},
       "encoding": {"x": {"field": "lo", "type": "quantitative", "scale": {"domain": [-4.573, 2.5], "nice": false, "zero": false},
          "axis": {"values": [-2, -1, 0, 1, 2], "domain": false, "tickSize": 2, "labelFontSize": 4.5, "labelPadding": 1, "title": "Value", "titleFontSize": 4.5, "titlePadding": 1, "titleX": 37.5, "titleFontWeight": "normal", "labelColor": "#222", "tickColor": "#222"}},
         "x2": {"field": "hi"}}},
      {"width": 1, "height": 1, "data": {"values": [{"t": ""}]}, "mark": {"type": "text", "fontSize": 1}, "encoding": {"text": {"field": "t"}}},
      {"width": 58, "height": 27,
       "title": {"text": "Color Key", "fontSize": 5.5, "fontWeight": "bold", "offset": 2, "dx": 8.5},
       "data": {"values": [{"lo": -1.3, "hi": 1.3}]},
       "mark": {"type": "rect", "fill": {"gradient": "linear", "stops": [{"offset": 0, "color": "#00ff00"}, {"offset": 0.5, "color": "#000000"}, {"offset": 1, "color": "#ff0000"}]}, "stroke": "#a8a020", "strokeWidth": 0.8},
       "encoding": {"x": {"field": "lo", "type": "quantitative", "scale": {"domain": [-2.378, 1.3], "nice": false, "zero": false},
          "axis": {"values": [-1, 0, 1], "domain": false, "tickSize": 2, "labelFontSize": 4.5, "labelPadding": 1, "title": "Value", "titleFontSize": 4.5, "titlePadding": 1, "titleX": 37.5, "titleFontWeight": "normal", "labelColor": "#222", "tickColor": "#222"}},
         "x2": {"field": "hi"}}},
      {"width": 1, "height": 1, "data": {"values": [{"t": ""}]}, "mark": {"type": "text", "fontSize": 1}, "encoding": {"text": {"field": "t"}}},

      {"width": 62, "height": 128,
       "data": {"name": "dzt"},
       "layer": [
         {"mark": {"type": "rule", "color": "#9a9a9a", "strokeWidth": 1.2}, "encoding": {"x": {"field": "ha", "type": "quantitative", "scale": {"domain": [-1, 64.5], "reverse": true, "nice": false, "zero": false}, "axis": null}, "x2": {"field": "h"}, "y": {"field": "ya", "type": "quantitative", "scale": {"domain": [0, 6], "reverse": true, "nice": false, "zero": false}, "axis": null}}},
         {"mark": {"type": "rule", "color": "#9a9a9a", "strokeWidth": 1.2}, "encoding": {"x": {"field": "hb", "type": "quantitative", "axis": null}, "x2": {"field": "h"}, "y": {"field": "yb", "type": "quantitative", "axis": null}}},
         {"mark": {"type": "rule", "color": "#9a9a9a", "strokeWidth": 1.2}, "encoding": {"x": {"field": "h", "type": "quantitative", "axis": null}, "y": {"field": "ya", "type": "quantitative", "axis": null}, "y2": {"field": "yb"}}}
       ]},
      {"width": 130, "height": 128,
       "data": {"name": "zt"},
       "encoding": {
         "x": {"field": "comp", "type": "nominal", "sort": ["Day 1 vs Neg", "Day 3 vs Neg", "Day 7 vs Neg"], "scale": {"paddingInner": 0, "paddingOuter": 0},
               "axis": {"title": null, "labelAngle": -90, "domain": false, "ticks": false, "labelFontSize": 8.5, "labelPadding": 3, "labelColor": "#333"}},
         "y": {"field": "gene", "type": "nominal", "sort": ["ep300b", "maml1", "rbpjl", "ncor2", "snw1", "ep300a"], "scale": {"paddingInner": 0, "paddingOuter": 0},
               "axis": {"title": null, "orient": "right", "domain": false, "ticks": false, "labelFontSize": 8.5, "labelPadding": 3, "labelColor": "#222", "labelOverlap": false}}
       },
       "layer": [
         {"mark": {"type": "rect"}, "encoding": {"color": {"field": "v", "type": "quantitative", "scale": {"domain": [-2.5, 0, 2.5], "range": ["#00ff00", "#000000", "#ff0000"], "interpolate": "rgb"}, "legend": null}}}
       ]},
      {"width": 60, "height": 128,
       "data": {"name": "dmt"},
       "layer": [
         {"mark": {"type": "rule", "color": "#9a9a9a", "strokeWidth": 1.2}, "encoding": {"x": {"field": "ha", "type": "quantitative", "scale": {"domain": [-1, 62.5], "reverse": true, "nice": false, "zero": false}, "axis": null}, "x2": {"field": "h"}, "y": {"field": "ya", "type": "quantitative", "scale": {"domain": [0, 6], "reverse": true, "nice": false, "zero": false}, "axis": null}}},
         {"mark": {"type": "rule", "color": "#9a9a9a", "strokeWidth": 1.2}, "encoding": {"x": {"field": "hb", "type": "quantitative", "axis": null}, "x2": {"field": "h"}, "y": {"field": "yb", "type": "quantitative", "axis": null}}},
         {"mark": {"type": "rule", "color": "#9a9a9a", "strokeWidth": 1.2}, "encoding": {"x": {"field": "h", "type": "quantitative", "axis": null}, "y": {"field": "ya", "type": "quantitative", "axis": null}, "y2": {"field": "yb"}}}
       ]},
      {"width": 131, "height": 128,
       "data": {"name": "mt"},
       "encoding": {
         "x": {"field": "comp", "type": "nominal", "sort": ["Day 1 vs Neg", "Day 3 vs Neg", "Day 7 vs Neg"], "scale": {"paddingInner": 0, "paddingOuter": 0},
               "axis": {"title": null, "labelAngle": -90, "domain": false, "ticks": false, "labelFontSize": 8.5, "labelPadding": 3, "labelColor": "#333"}},
         "y": {"field": "gene", "type": "nominal", "sort": ["Maml2", "Snw1", "Ep300", "Ncor2", "Maml1", "Rbpjl"], "scale": {"paddingInner": 0, "paddingOuter": 0},
               "axis": {"title": null, "orient": "right", "domain": false, "ticks": false, "labelFontSize": 8.5, "labelPadding": 3, "labelColor": "#222", "labelOverlap": false}}
       },
       "layer": [
         {"mark": {"type": "rect"}, "encoding": {"color": {"field": "v", "type": "quantitative", "scale": {"domain": [-1.3, 0, 1.3], "range": ["#00ff00", "#000000", "#ff0000"], "interpolate": "rgb"}, "legend": null}}},
         {"transform": [{"filter": "datum.comp != 'Day 1 vs Neg'"}], "mark": {"type": "rect", "filled": false, "stroke": "#29abe2", "strokeWidth": 4}},
         {"transform": [{"filter": "datum.comp != 'Day 1 vs Neg'"}], "mark": {"type": "rect"}, "encoding": {"color": {"field": "v", "type": "quantitative", "legend": null}}}
       ]}
    ]
  }
]
}
